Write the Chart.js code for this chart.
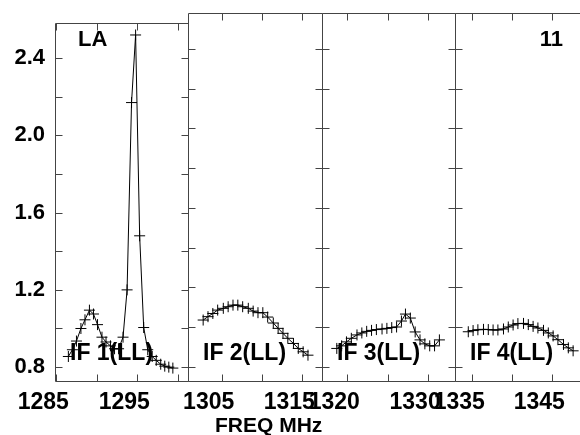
<!DOCTYPE html>
<html>
<head>
<meta charset="utf-8">
<script src="https://cdn.jsdelivr.net/npm/chart.js@4.4.0/dist/chart.umd.min.js"></script>
<style>
  body { margin: 0; background: #fff; }
  #wrap { position: relative; width: 580px; height: 435px; overflow: hidden; background: #fff; }
  #wrap canvas { position: absolute; top: 0; }
</style>
</head>
<body>
<div id="wrap">
  <canvas id="if1" width="228" height="435" style="left:0px"></canvas>
  <canvas id="if2" width="214" height="435" style="left:148px"></canvas>
  <canvas id="if3" width="213" height="435" style="left:282px"></canvas>
  <canvas id="if4" width="213" height="435" style="left:415px"></canvas>
</div>
<script>
// IF 1 (LL) spectrum
const freq1 = [1286.5, 1287.0, 1287.5, 1288.05, 1288.55, 1289.1, 1289.6, 1290.1, 1290.65, 1291.15,
  1291.7, 1292.2, 1292.7, 1293.25, 1293.75, 1294.3, 1294.8, 1295.3, 1295.8, 1296.3,
  1296.85, 1297.35, 1297.9, 1298.4, 1298.9, 1299.4];
const flux1 = [0.855, 0.89, 0.935, 1.0, 1.045, 1.095, 1.075, 1.02, 0.955, 0.93,
  0.91, 0.895, 0.895, 0.955, 1.20, 2.17, 2.52, 1.48, 1.005, 0.89,
  0.855, 0.835, 0.815, 0.805, 0.80, 0.795];

// IF 2 (LL) spectrum
const freq2 = [1302.7, 1303.3, 1303.9, 1304.5, 1305.2, 1305.8, 1306.4, 1307.0, 1307.6, 1308.3,
  1308.9, 1309.5, 1310.1, 1310.7, 1311.4, 1312.0, 1312.6, 1313.2, 1313.9, 1314.5,
  1315.1, 1315.7];
const flux2 = [1.035, 1.052, 1.068, 1.085, 1.094, 1.102, 1.11, 1.11, 1.102, 1.094,
  1.08, 1.072, 1.072, 1.05, 1.02, 0.993, 0.968, 0.943, 0.917, 0.892,
  0.875, 0.858];

// IF 3 (LL) spectrum
const freq3 = [1318.7, 1319.3, 1319.9, 1320.5, 1321.2, 1321.8, 1322.4, 1323.0, 1323.6, 1324.3,
  1324.9, 1325.5, 1326.1, 1326.7, 1327.2, 1327.8, 1328.4, 1329.0, 1329.6, 1330.2,
  1330.8, 1331.4];
const flux3 = [0.892, 0.905, 0.925, 0.943, 0.96, 0.97, 0.978, 0.983, 0.987, 0.99,
  0.993, 0.997, 1.0, 1.03, 1.065, 1.045, 0.975, 0.935, 0.915, 0.905,
  0.905, 0.935];

// IF 4 (LL) spectrum
const freq4 = [1334.5, 1335.1, 1335.7, 1336.4, 1337.0, 1337.6, 1338.2, 1338.9, 1339.5, 1340.1,
  1340.7, 1341.4, 1342.0, 1342.6, 1343.2, 1343.9, 1344.5, 1345.1, 1345.7, 1346.4,
  1347.0, 1347.6];
const flux4 = [0.976, 0.982, 0.986, 0.988, 0.987, 0.985, 0.985, 0.99, 1.0, 1.01,
  1.017, 1.018, 1.012, 1.003, 0.995, 0.983, 0.97, 0.955, 0.936, 0.912,
  0.895, 0.88];

// axis ticks
const yLabels = [0.8, 1.2, 1.6, 2.0, 2.4];
const yTickMarks = [0.8, 1.0, 1.2, 1.4, 1.6, 1.8, 2.0, 2.2, 2.4];
const xLabels1 = [1285, 1295];
const xLabels2 = [1305, 1315];
const xLabels3 = [1320, 1330];
const xLabels4 = [1335, 1345];
const xTickMarks1 = [1285, 1290, 1295, 1300];
const xTickMarks2 = [1305, 1310, 1315];
const xTickMarks3 = [1320, 1325, 1330];
const xTickMarks4 = [1335, 1340, 1345];

const Y_MIN = 0.7255, Y_MAX = 2.581;
const FONT = '"Liberation Sans", Arial, sans-serif';

// frame, inward tick marks and the panel captions (page coordinates)
function framePlugin(xTicks, texts, canvasLeft) {
  return {
    id: 'aipsFrame',
    afterDatasetsDraw(chart) {
      const { ctx, chartArea: a, scales: { x, y } } = chart;
      ctx.save();
      ctx.strokeStyle = '#444';
      ctx.lineWidth = 1;
      const L = Math.floor(a.left) + 0.5, R = Math.floor(a.right) + 0.5;
      const T = Math.floor(a.top) + 0.5, B = Math.floor(a.bottom) + 0.5;
      ctx.beginPath();
      ctx.rect(L, T, R - L, B - T);
      xTicks.forEach(v => {
        const px = Math.round(x.getPixelForValue(v)) + 0.5;
        ctx.moveTo(px, T); ctx.lineTo(px, T + 7);
        ctx.moveTo(px, B); ctx.lineTo(px, B - 7);
      });
      yTickMarks.forEach(v => {
        const py = Math.round(y.getPixelForValue(v)) + 0.5;
        ctx.moveTo(L, py); ctx.lineTo(L + 7, py);
        ctx.moveTo(R, py); ctx.lineTo(R - 7, py);
      });
      ctx.stroke();

      ctx.fillStyle = '#000';
      ctx.textBaseline = 'alphabetic';
      texts.forEach(t => {
        ctx.font = 'bold ' + t.size + 'px ' + FONT;
        ctx.textAlign = t.align || 'left';
        ctx.fillText(t.text, t.x - canvasLeft, t.y);
      });
      ctx.restore();
    }
  };
}

function makePanel(id, freq, flux, xMin, xMax, xLabels, xTicks, showY, texts) {
  const el = document.getElementById(id);
  const canvasLeft = parseFloat(el.style.left);
  new Chart(el, {
    type: 'line',
    data: {
      datasets: [{
        data: freq.map((f, i) => ({ x: f, y: flux[i] })),
        borderColor: '#000',
        borderWidth: 1,
        pointStyle: 'cross',
        pointRadius: 5.5,
        pointBorderColor: '#000',
        pointBorderWidth: 1,
        tension: 0,
        fill: false
      }]
    },
    options: {
      responsive: false,
      animation: false,
      devicePixelRatio: 1,
      layout: { padding: { left: showY ? 0 : 40, right: 40, top: 13, bottom: 0 } },
      plugins: { legend: { display: false }, tooltip: { enabled: false } },
      scales: {
        x: {
          type: 'linear',
          min: xMin,
          max: xMax,
          grid: { display: false, drawTicks: false },
          border: { display: false },
          afterBuildTicks: s => { s.ticks = xLabels.map(v => ({ value: v })); },
          afterFit: s => { s.height = 53.5; },
          ticks: {
            autoSkip: false, maxRotation: 0, padding: 7, labelOffset: -13,
            color: '#000', font: { family: FONT, size: 23, weight: 'bold' },
            callback: v => String(v)
          }
        },
        y: {
          display: showY,
          min: Y_MIN,
          max: Y_MAX,
          grid: { display: false, drawTicks: false },
          border: { display: false },
          afterBuildTicks: s => { s.ticks = yLabels.map(v => ({ value: v })); },
          afterFit: s => { s.width = showY ? 55 : 0; },
          ticks: {
            padding: 10,
            color: '#000', font: { family: FONT, size: 22, weight: 'bold' },
            callback: v => v.toFixed(1)
          }
        }
      }
    },
    plugins: [framePlugin(xTicks, texts, canvasLeft)]
  });
}

makePanel('if1', freq1, flux1, 1284.85, 1301.27, xLabels1, xTickMarks1, true, [
  { text: 'LA', x: 78, y: 46, size: 22 },
  { text: 'IF 1(LL)', x: 70, y: 360, size: 23 }
]);
makePanel('if2', freq2, flux2, 1300.82, 1317.44, xLabels2, xTickMarks2, false, [
  { text: 'IF 2(LL)', x: 203, y: 360, size: 23 },
  { text: 'FREQ MHz', x: 215, y: 432, size: 21 }
]);
makePanel('if3', freq3, flux3, 1316.87, 1333.33, xLabels3, xTickMarks3, false, [
  { text: 'IF 3(LL)', x: 337, y: 360, size: 23 }
]);
makePanel('if4', freq4, flux4, 1332.84, 1349.46, xLabels4, xTickMarks4, false, [
  { text: 'IF 4(LL)', x: 470, y: 360, size: 23 },
  { text: '11', x: 563, y: 46, size: 22, align: 'right' }
]);
</script>
</body>
</html>
